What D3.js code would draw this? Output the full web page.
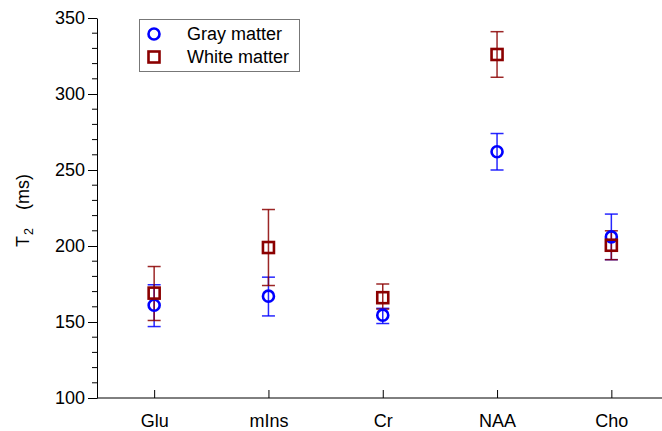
<!DOCTYPE html>
<html><head><meta charset="utf-8">
<script src="https://cdn.jsdelivr.net/npm/d3@7/dist/d3.min.js"></script>
<style>body{margin:0;background:#fff;} svg{display:block;font-family:"Liberation Sans",Arial,sans-serif;}</style>
</head><body>
<svg id="c" width="662" height="431"></svg>
<script>
const categories = ["Glu","mIns","Cr","NAA","Cho"];
const grayMean = [161, 167, 154.5, 262, 206];
const grayLow  = [147, 154, 149, 250, 191];
const grayHigh = [174.5, 179.5, 159, 274, 221];
const whiteMean = [169, 199, 166, 326, 200.5];
const whiteLow  = [151, 174, 158.5, 311, 191];
const whiteHigh = [186.5, 224, 175, 341, 210];
const yTicks = [100,150,200,250,300,350];
const seriesNames = ["Gray matter","White matter"];

(function(){
const svg = d3.select("#c");
const mL = 97, mR = 662, mT = 18, mB = 398;
const x = d3.scalePoint().domain(categories).range([mL, mL + 114.3*5]).padding(0.5);
const y = d3.scaleLinear().domain([100,350]).range([mB, mT]);

// y axis
const yAxis = d3.axisLeft(y).tickValues(yTicks).tickSize(9).tickPadding(3).tickSizeOuter(0);
const gy = svg.append("g").attr("transform",`translate(${mL},0)`).call(yAxis);
gy.selectAll("text").attr("font-size",18).attr("fill","#000");
gy.selectAll("line").attr("stroke","#000");
gy.select(".domain").attr("stroke","#000");
const minor = d3.range(100,351,10).filter(v=>!yTicks.includes(v));
gy.selectAll(".minor").data(minor).join("line").attr("class","minor")
  .attr("x1",-5).attr("x2",0).attr("y1",d=>y(d)).attr("y2",d=>y(d)).attr("stroke","#000");

// x axis
const gx = svg.append("g").attr("transform",`translate(0,${mB})`);
gx.append("line").attr("x1",mL).attr("x2",mR).attr("stroke","#000");
const xAxis = d3.axisBottom(x).tickSize(-8).tickPadding(16).tickSizeOuter(0);
const gx2 = svg.append("g").attr("transform",`translate(0,${mB})`).call(xAxis);
gx2.select(".domain").remove();
gx2.selectAll("line").attr("stroke","#000");
gx2.selectAll("text").attr("font-size",18).attr("fill","#000");

// y label
const yl = svg.append("text").attr("transform",`translate(29,247) rotate(-90)`).attr("text-anchor","start").attr("font-size",18);
yl.append("tspan").text("T");
yl.append("tspan").text("2").attr("font-size",12.5).attr("dy",4).attr("dx",1);
yl.append("tspan").text("(ms)").attr("dy",-4).attr("dx",18);

function errBars(lo, hi, color){
  const g = svg.append("g");
  categories.forEach((c,i)=>{
    const cx = x(c);
    g.append("line").attr("x1",cx).attr("x2",cx).attr("y1",y(lo[i])).attr("y2",y(hi[i])).attr("stroke",color).attr("stroke-width",1.5).attr("stroke-opacity",0.85);
    [lo[i],hi[i]].forEach(v=>g.append("line").attr("x1",cx-6.5).attr("x2",cx+6.5).attr("y1",y(v)).attr("y2",y(v)).attr("stroke",color).attr("stroke-width",1.5).attr("stroke-opacity",0.85));
  });
}
errBars(grayLow, grayHigh, "#0000ff");
errBars(whiteLow, whiteHigh, "#8b0000");

svg.append("g").selectAll("circle").data(categories).join("circle")
  .attr("cx",c=>x(c)).attr("cy",(c,i)=>y(grayMean[i])).attr("r",5.5)
  .attr("fill","none").attr("stroke","#0000ff").attr("stroke-width",2.6);
svg.append("g").selectAll("rect").data(categories).join("rect")
  .attr("x",c=>x(c)-5.5).attr("y",(c,i)=>y(whiteMean[i])-5.5).attr("width",11).attr("height",11)
  .attr("fill","none").attr("stroke","#8b0000").attr("stroke-width",2.6);

// legend
const lg = svg.append("g");
lg.append("rect").attr("x",139.5).attr("y",19.5).attr("width",160).attr("height",52).attr("fill","#fff").attr("stroke","#777").attr("stroke-width",1);
lg.append("circle").attr("cx",154).attr("cy",34).attr("r",5.5).attr("fill","none").attr("stroke","#0000ff").attr("stroke-width",2.6);
lg.append("rect").attr("x",148.5).attr("y",51.5).attr("width",11).attr("height",11).attr("fill","none").attr("stroke","#8b0000").attr("stroke-width",2.6);
lg.append("text").attr("x",187).attr("y",39.5).attr("font-size",18).text(seriesNames[0]);
lg.append("text").attr("x",187).attr("y",63).attr("font-size",18).text(seriesNames[1]);
})();
</script>
</body></html>
